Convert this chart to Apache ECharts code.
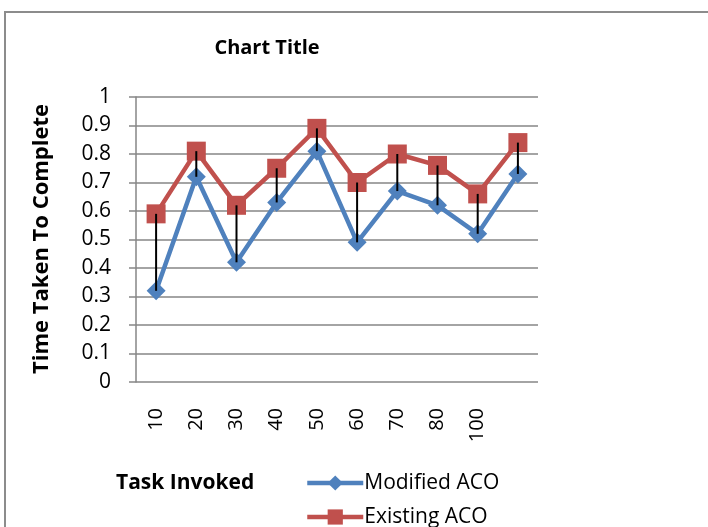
<!DOCTYPE html>
<html><head><meta charset="utf-8">
<script src="https://cdn.jsdelivr.net/npm/echarts@6/dist/echarts.min.js"></script>
<style>html,body{margin:0;padding:0;background:#fff}#c{width:708px;height:527px}</style>
</head><body><div id="c"></div>
<script>
const categories = ['10','20','30','40','50','60','70','80','100',''];
const modifiedACO = [0.32,0.72,0.42,0.63,0.81,0.49,0.67,0.62,0.52,0.73];
const existingACO = [0.59,0.81,0.62,0.75,0.89,0.70,0.80,0.76,0.66,0.84];
const yTicks = [0,0.1,0.2,0.3,0.4,0.5,0.6,0.7,0.8,0.9,1];

const FONT = 'Open Sans';
const chart = echarts.init(document.getElementById('c'));
const dropData = categories.map((c,i)=>[i, existingACO[i], modifiedACO[i]]);
const legendBase = {orient:'vertical',left:305,itemWidth:56,itemHeight:19,
    lineStyle:{width:4.5},padding:0,
    textStyle:{fontFamily:FONT,fontSize:21,lineHeight:22,color:'#000',padding:[0,0,0,-4]}};
chart.setOption({
  animation:false,
  textStyle:{fontFamily:FONT},
  graphic:[
    {type:'polyline',shape:{points:[[5,527],[5,12],[708,12]]},style:{stroke:'#8c8c8c',lineWidth:2,fill:null},silent:true},
    {type:'text',x:42,y:239,rotation:Math.PI/2,silent:true,
      style:{text:'Time Taken To Complete',fontFamily:FONT,fontSize:22,fontWeight:'bold',fill:'#000',align:'center',verticalAlign:'middle'}},
    {type:'text',x:116,y:483,silent:true,
      style:{text:'Task Invoked',fontFamily:FONT,fontSize:21,fontWeight:'bold',fill:'#000',align:'left',verticalAlign:'middle'}}
  ],
  title:{text:'Chart Title',left:262,top:33,textAlign:'center',
    textStyle:{fontFamily:FONT,fontSize:20,fontWeight:'bold',color:'#000'}},
  grid:{left:136,right:170,top:97,bottom:145},
  legend:[
    Object.assign({},legendBase,{top:472,data:['Modified ACO']}),
    Object.assign({},legendBase,{top:506,data:['Existing ACO']})
  ],
  xAxis:{type:'category',data:categories,boundaryGap:true,
    axisLine:{show:false},axisTick:{show:false},
    axisLabel:{rotate:90,margin:26,fontFamily:FONT,fontSize:20,color:'#000',interval:0},
    splitLine:{show:false}},
  yAxis:{type:'value',min:0,max:1,interval:0.1,
    axisLine:{show:true,lineStyle:{color:'#868686',width:1.5}},
    axisTick:{show:true,length:7,lineStyle:{color:'#868686',width:1.5}},
    axisLabel:{margin:25,fontFamily:FONT,fontSize:21,color:'#000',
      formatter:v=>{const t=yTicks.find(x=>Math.abs(x-v)<1e-9);return t===undefined?'':String(t);}},
    splitLine:{show:true,lineStyle:{color:'#868686',width:1.5}}},
  series:[
    {name:'Modified ACO',type:'line',data:modifiedACO,symbol:'diamond',symbolSize:19,
      itemStyle:{color:'#4F81BD'},lineStyle:{color:'#4F81BD',width:4.5},z:3},
    {name:'Existing ACO',type:'line',data:existingACO,symbol:'rect',symbolSize:19,
      itemStyle:{color:'#C0504D'},lineStyle:{color:'#C0504D',width:4.5},z:2},
    {name:'drop',type:'custom',data:dropData,z:10,silent:true,
      renderItem:(params,api)=>{
        const a=api.coord([api.value(0),api.value(1)]);
        const b=api.coord([api.value(0),api.value(2)]);
        return {type:'line',shape:{x1:a[0],y1:a[1],x2:b[0],y2:b[1]},style:{stroke:'#000',lineWidth:2}};
      }}
  ]
});
</script></body></html>
